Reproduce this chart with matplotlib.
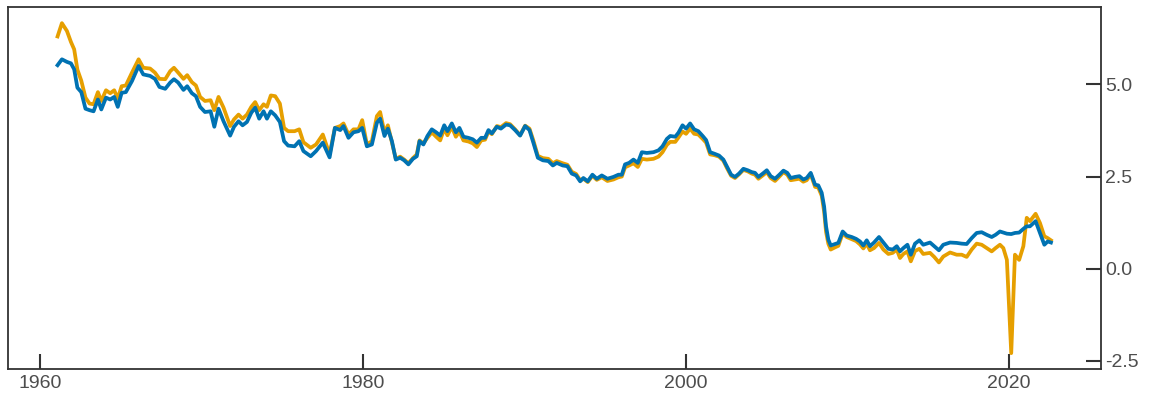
import matplotlib
matplotlib.use("Agg")
import matplotlib.pyplot as plt
import numpy as np

# ---- data ----
dates_1 = [1961.07, 1961.34, 1961.65, 1961.9, 1962.1, 1962.3, 1962.54, 1962.8, 1963.05, 1963.3,
           1963.57, 1963.78, 1964.07, 1964.33, 1964.58, 1964.8, 1965.04, 1965.3, 1965.68, 1966.09,
           1966.38, 1966.8, 1967.1, 1967.38, 1967.74, 1968.05, 1968.28, 1968.54, 1968.87, 1969.1,
           1969.39, 1969.64, 1969.9, 1970.2, 1970.55, 1970.78, 1971.04, 1971.35]
orange_1 = [6.30, 6.66, 6.45, 6.15, 5.95, 5.40, 5.10, 4.64, 4.48, 4.46,
            4.79, 4.55, 4.84, 4.76, 4.84, 4.62, 4.95, 4.97, 5.32, 5.68,
            5.45, 5.43, 5.32, 5.15, 5.14, 5.36, 5.45, 5.32, 5.15, 5.25,
            5.06, 4.97, 4.66, 4.55, 4.57, 4.30, 4.66, 4.37]
blue_1 = [5.52, 5.68, 5.61, 5.57, 5.41, 4.91, 4.79, 4.34, 4.30, 4.27,
          4.59, 4.32, 4.64, 4.59, 4.66, 4.39, 4.77, 4.79, 5.09, 5.50,
          5.27, 5.23, 5.15, 4.93, 4.88, 5.05, 5.14, 5.05, 4.85, 4.95,
          4.76, 4.68, 4.39, 4.25, 4.27, 3.85, 4.34, 4.00]

dates_2 = [1971.76, 1972.0, 1972.28, 1972.53, 1972.8, 1973.07, 1973.31, 1973.56, 1973.83, 1974.04,
           1974.28, 1974.55, 1974.84, 1975.1, 1975.35, 1975.75, 1976.04, 1976.3, 1976.75, 1977.08,
           1977.5, 1977.92, 1978.25, 1978.58, 1978.78, 1979.09, 1979.4, 1979.71, 1979.94, 1980.23,
           1980.54, 1980.85, 1981.05, 1981.32, 1981.53, 1981.78, 1982.02, 1982.29]
orange_2 = [3.87, 4.05, 4.18, 4.07, 4.18, 4.39, 4.52, 4.30, 4.46, 4.39,
            4.70, 4.68, 4.48, 3.82, 3.73, 3.73, 3.78, 3.43, 3.28, 3.37,
            3.64, 3.10, 3.82, 3.87, 3.94, 3.64, 3.78, 3.78, 4.03, 3.37,
            3.46, 4.14, 4.25, 3.69, 3.89, 3.42, 2.98, 3.04]
blue_2 = [3.61, 3.85, 4.00, 3.89, 3.98, 4.23, 4.37, 4.07, 4.27, 4.07,
          4.27, 4.16, 3.98, 3.46, 3.34, 3.32, 3.46, 3.19, 3.05, 3.19,
          3.42, 3.02, 3.82, 3.76, 3.87, 3.55, 3.70, 3.73, 3.82, 3.32,
          3.37, 3.96, 4.07, 3.60, 3.80, 3.46, 2.96, 3.01]

dates_3 = [1982.54, 1982.8, 1983.08, 1983.32, 1983.49, 1983.73, 1983.98, 1984.25, 1984.52, 1984.77,
           1985.02, 1985.22, 1985.49, 1985.74, 1985.96, 1986.21, 1986.52, 1986.79, 1987.04, 1987.31,
           1987.55, 1987.76, 1987.97, 1988.28, 1988.53, 1988.85, 1989.1, 1989.41, 1989.72, 1990.03,
           1990.3, 1990.54, 1990.82, 1991.13, 1991.47, 1991.75, 1991.99, 1992.36, 1992.65, 1992.92,
           1993.19, 1993.44]
orange_3 = [2.96, 2.86, 3.00, 3.10, 3.48, 3.40, 3.55, 3.70, 3.58, 3.48,
            3.80, 3.62, 3.85, 3.58, 3.72, 3.48, 3.45, 3.40, 3.30, 3.48,
            3.50, 3.72, 3.65, 3.87, 3.84, 3.95, 3.92, 3.78, 3.62, 3.88,
            3.80, 3.48, 3.06, 3.00, 2.98, 2.86, 2.92, 2.86, 2.82, 2.63,
            2.57, 2.40]
blue_3 = [2.94, 2.83, 2.98, 3.05, 3.46, 3.37, 3.60, 3.78, 3.70, 3.61,
          3.89, 3.73, 3.94, 3.70, 3.82, 3.58, 3.55, 3.51, 3.42, 3.55,
          3.55, 3.76, 3.67, 3.85, 3.80, 3.91, 3.89, 3.76, 3.61, 3.87,
          3.76, 3.42, 3.01, 2.94, 2.92, 2.80, 2.87, 2.80, 2.78, 2.58,
          2.53, 2.37]

dates_4 = [1993.64, 1993.91, 1994.2, 1994.47, 1994.78, 1995.13, 1995.5, 1995.81, 1996.02, 1996.22,
           1996.47, 1996.74, 1997.01, 1997.26, 1997.57, 1997.98, 1998.29, 1998.54, 1998.81, 1999.02,
           1999.33, 1999.53, 1999.78, 2000.0, 2000.25, 2000.5, 2000.76, 2001.03, 2001.24, 2001.49,
           2001.75, 2002.04, 2002.31, 2002.52, 2002.79, 2003.03, 2003.28, 2003.55, 2003.82]
orange_4 = [2.44, 2.35, 2.52, 2.41, 2.48, 2.38, 2.42, 2.48, 2.50, 2.75,
            2.80, 2.86, 2.76, 2.98, 2.96, 2.98, 3.04, 3.16, 3.36, 3.44,
            3.44, 3.56, 3.72, 3.66, 3.80, 3.66, 3.64, 3.52, 3.42, 3.10,
            3.08, 3.04, 2.93, 2.74, 2.52, 2.46, 2.56, 2.68, 2.64]
blue_4 = [2.46, 2.37, 2.55, 2.44, 2.53, 2.44, 2.49, 2.55, 2.55, 2.83,
          2.87, 2.96, 2.87, 3.16, 3.14, 3.16, 3.21, 3.32, 3.52, 3.60,
          3.58, 3.69, 3.89, 3.80, 3.94, 3.78, 3.73, 3.60, 3.49, 3.16,
          3.12, 3.07, 2.96, 2.78, 2.55, 2.49, 2.58, 2.71, 2.67]

dates_5 = [2004.07, 2004.27, 2004.48, 2004.75, 2005.0, 2005.24, 2005.51, 2005.78, 2006.03, 2006.27,
           2006.48, 2006.75, 2007.02, 2007.26, 2007.47, 2007.72, 2007.99, 2008.19, 2008.4, 2008.55,
           2008.67, 2008.81, 2008.96, 2009.23, 2009.43, 2009.7, 2009.95, 2010.26, 2010.53, 2010.77,
           2010.98, 2011.19, 2011.39, 2011.64, 2011.95, 2012.22, 2012.53, 2012.8, 2013.05, 2013.25,
           2013.46, 2013.71, 2013.92, 2014.18, 2014.45, 2014.69]
orange_5 = [2.58, 2.55, 2.44, 2.53, 2.62, 2.46, 2.38, 2.50, 2.62, 2.55,
            2.40, 2.42, 2.44, 2.36, 2.40, 2.56, 2.22, 2.20, 1.98, 1.55,
            1.00, 0.68, 0.52, 0.58, 0.62, 0.96, 0.86, 0.80, 0.75, 0.66,
            0.55, 0.68, 0.50, 0.56, 0.70, 0.52, 0.40, 0.43, 0.52, 0.29,
            0.40, 0.47, 0.20, 0.48, 0.54, 0.40]
blue_5 = [2.62, 2.60, 2.49, 2.58, 2.67, 2.51, 2.44, 2.55, 2.66, 2.60,
          2.46, 2.49, 2.51, 2.42, 2.46, 2.60, 2.28, 2.26, 2.06, 1.69,
          1.15, 0.79, 0.63, 0.67, 0.70, 1.01, 0.90, 0.86, 0.81, 0.74,
          0.63, 0.77, 0.61, 0.71, 0.86, 0.71, 0.54, 0.52, 0.61, 0.47,
          0.56, 0.65, 0.38, 0.68, 0.77, 0.65]

dates_6 = [2015.11, 2015.37, 2015.66, 2015.93, 2016.35, 2016.76, 2017.07, 2017.38, 2017.69, 2018.0,
           2018.31, 2018.62, 2018.93, 2019.17, 2019.44, 2019.65, 2019.87, 2020.14, 2020.37, 2020.63,
           2020.89, 2021.1, 2021.3, 2021.65, 2021.92, 2022.19, 2022.4, 2022.6]
orange_6 = [0.43, 0.32, 0.17, 0.33, 0.44, 0.38, 0.38, 0.32, 0.52, 0.68,
            0.65, 0.56, 0.47, 0.56, 0.65, 0.56, 0.24, -2.29, 0.38, 0.24,
            0.61, 1.38, 1.29, 1.49, 1.24, 0.88, 0.83, 0.77]
blue_6 = [0.71, 0.61, 0.50, 0.65, 0.71, 0.70, 0.68, 0.67, 0.83, 0.97,
          0.99, 0.92, 0.86, 0.92, 1.01, 0.98, 0.95, 0.94, 0.97, 0.98,
          1.08, 1.15, 1.15, 1.29, 0.97, 0.65, 0.74, 0.71]

dates = dates_1 + dates_2 + dates_3 + dates_4 + dates_5 + dates_6
orange_series = orange_1 + orange_2 + orange_3 + orange_4 + orange_5 + orange_6
blue_series = blue_1 + blue_2 + blue_3 + blue_4 + blue_5 + blue_6

x_ticks = [1960, 1980, 2000, 2020]
y_ticks = [-2.5, 0.0, 2.5, 5.0]

# ---- figure ----
plt.rcParams['font.family'] = ['Liberation Sans', 'DejaVu Sans']
fig = plt.figure(figsize=(11.57, 3.98), dpi=100)
ax = fig.add_axes([0.0069, 0.0729, 0.9447, 0.9087])

ax.plot(dates, orange_series, color='#E69F00', lw=2.7, solid_joinstyle='round')
ax.plot(dates, blue_series, color='#0072B2', lw=2.7, solid_joinstyle='round')

ax.set_xlim(1958.0, 2025.7)
ax.set_ylim(-2.72, 7.09)

ax.set_xticks(x_ticks)
ax.set_xticklabels([str(t) for t in x_ticks])
ax.set_yticks(y_ticks)
ax.set_yticklabels([f"{t:.1f}" for t in y_ticks])

ax.yaxis.tick_right()
ax.tick_params(axis='both', direction='in', length=11, width=1.5, colors='#333333',
               labelcolor='#4d4d4d', labelsize=14)
ax.tick_params(axis='x', pad=4)
ax.tick_params(axis='y', pad=3)

for s in ax.spines.values():
    s.set_color('#333333')
    s.set_linewidth(1.3)

fig.savefig('out.png', dpi=100)
